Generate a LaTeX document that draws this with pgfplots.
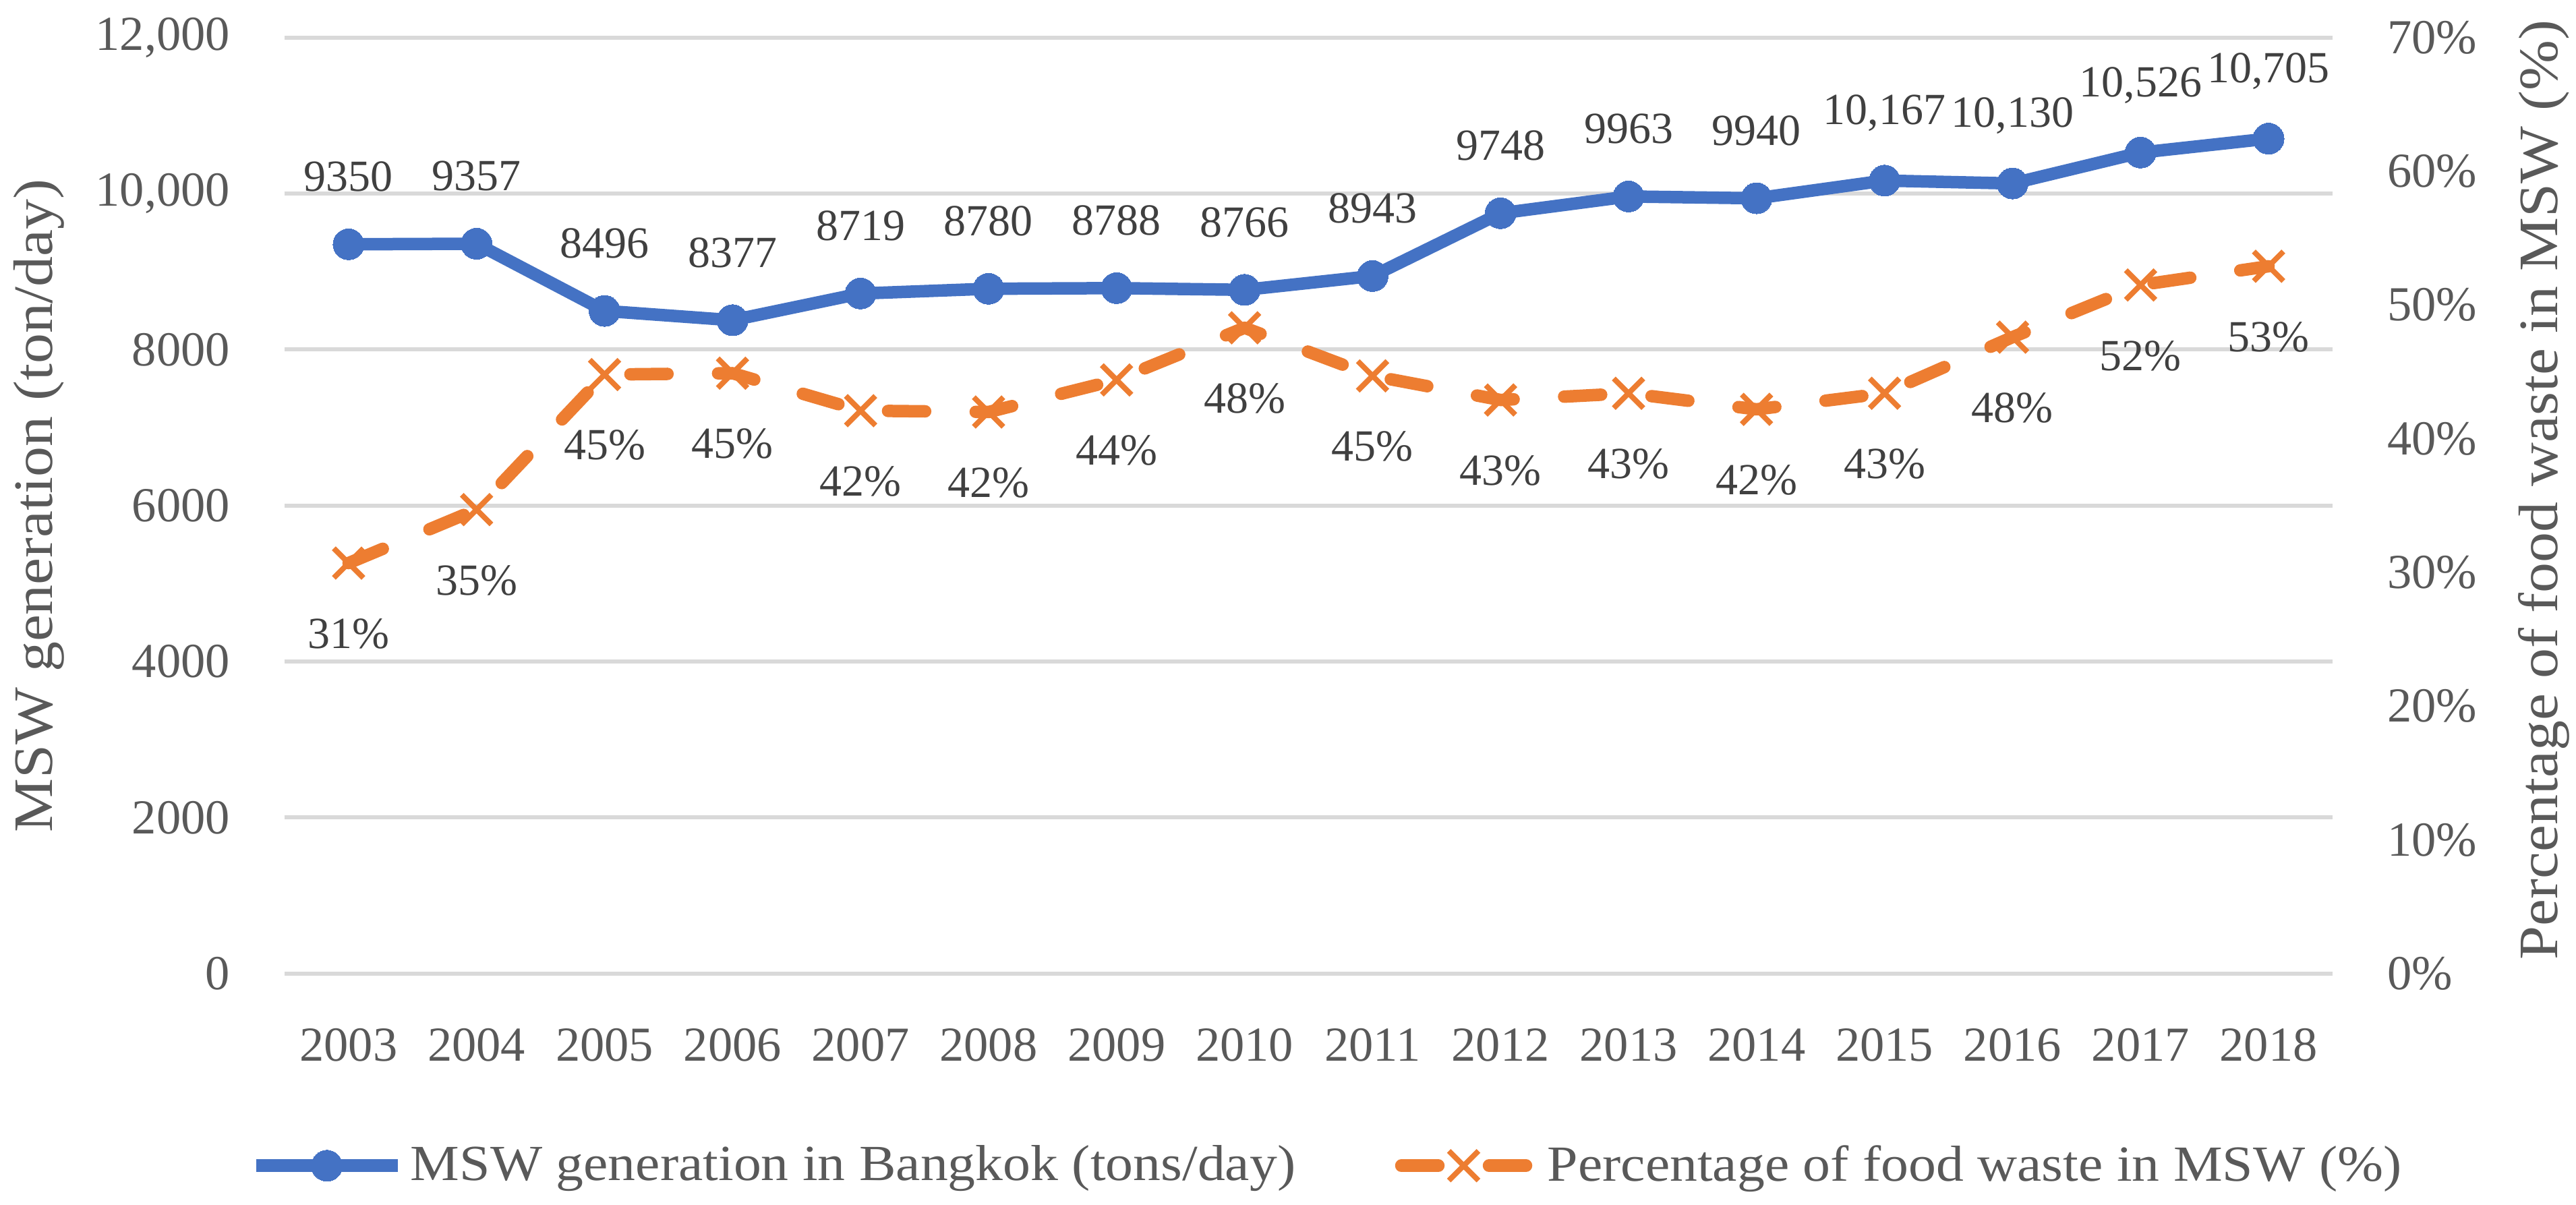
\documentclass[border=0pt]{standalone}
\usepackage{fontspec}
\setmainfont{Liberation Serif}
\newfontfamily\lblfont{Liberation Serif}[FakeStretch=1.09]
\usepackage{pgfplots}
\usepackage{pgfplotstable}
\pgfplotsset{compat=1.18}
\definecolor{txt}{HTML}{595959}
\definecolor{dlbl}{HTML}{404040}
\definecolor{gridc}{HTML}{D9D9D9}
\definecolor{cblue}{HTML}{4472C4}
\definecolor{corange}{HTML}{ED7D31}

\pgfplotstableread{
x y lab
0 9350 9350
1 9357 9357
2 8496 8496
3 8377 8377
4 8719 8719
5 8780 8780
6 8788 8788
7 8766 8766
8 8943 8943
9 9748 9748
10 9963 9963
11 9940 9940
12 10167 10,167
13 10130 10,130
14 10526 10,526
15 10705 10,705
}\msw

\pgfplotstableread{
x y lab
0 30.7 31
1 34.7 35
2 44.8 45
3 44.9 45
4 42.1 42
5 42.0 42
6 44.4 44
7 48.3 48
8 44.7 45
9 42.9 43
10 43.4 43
11 42.2 42
12 43.4 43
13 47.6 48
14 51.5 52
15 52.9 53
}\pct

\begin{document}
\begin{tikzpicture}
\begin{axis}[
  name=ax1,
  scale only axis, width=607.4pt, height=277.6pt,
  xmin=-0.5, xmax=15.5, ymin=0, ymax=12000,
  clip=false,
  scaled y ticks=false,
  axis line style={draw=none},
  major tick length=0pt,
  ymajorgrids, grid style={gridc, line width=1.2pt},
  xtick={0,...,15},
  xticklabels={2003,2004,2005,2006,2007,2008,2009,2010,2011,2012,2013,2014,2015,2016,2017,2018},
  ytick={0,2000,4000,6000,8000,10000,12000},
  yticklabels={0,2000,4000,6000,8000,{10,000},{12,000}},
  /pgf/number format/assume math mode=true,
  tick label style={font=\fontsize{14.5}{17}\selectfont, text=txt},
  xticklabel style={anchor=center, inner sep=0pt, yshift=-21.2pt},
  yticklabel style={anchor=east, inner sep=0pt, xshift=-16pt},
  ylabel={MSW generation (ton/day)},
  ylabel style={at={(axis description cs:0,0.5)}, anchor=center, yshift=72.8pt, font=\lblfont\fontsize{16.5}{19}\selectfont, text=txt},
]
\addplot[cblue, line width=3.7pt, line join=round, mark=*, mark size=4.6pt,
  mark options={solid, fill=cblue, draw=cblue, line width=0pt},
  nodes near coords, point meta=explicit symbolic,
  every node near coord/.append style={anchor=center, yshift=20pt, font=\fontsize{13.2}{15}\selectfont, text=dlbl}]
  table[x=x,y=y,meta=lab]{\msw};
\end{axis}
\begin{axis}[
  scale only axis, width=607.4pt, height=277.6pt,
  xmin=-0.5, xmax=15.5, ymin=0, ymax=70,
  clip=false,
  scaled y ticks=false,
  axis y line*=right,
  axis line style={draw=none},
  major tick length=0pt,
  xtick=\empty,
  ytick={0,10,20,30,40,50,60,70},
  yticklabels={0\%,10\%,20\%,30\%,40\%,50\%,60\%,70\%},
  /pgf/number format/assume math mode=true,
  tick label style={font=\fontsize{14.5}{17}\selectfont, text=txt},
  yticklabel style={anchor=west, inner sep=0pt, xshift=16pt},
  ylabel={Percentage of food waste in MSW (\%)},
  ylabel style={at={(axis description cs:1,0.5)}, anchor=center, yshift=-62.6pt, xshift=4.6pt, font=\lblfont\fontsize{16.5}{19}\selectfont, text=txt},
  legend columns=2,
  legend style={draw=none, fill=none, at={(0.5,-0.2053)}, xshift=6.1pt, anchor=center,
    font=\lblfont\fontsize{15}{18}\selectfont, text=txt,
    /tikz/every even column/.append style={column sep=25pt}},
  legend image code/.code={\draw[mark repeat=2,mark phase=2,#1, dash phase=23.5pt] plot coordinates {(0pt,0pt) (21pt,0pt) (42pt,0pt)};},
]
\addlegendimage{cblue, line width=3.7pt, mark=*, mark size=4.6pt, mark options={solid, fill=cblue, draw=cblue, line width=0pt}}
\addplot[corange, line width=3.7pt, line cap=round, line join=round, dash pattern=on 11pt off 15pt,
  mark=x, mark size=6.2pt, mark options={solid, line width=1.6pt, line cap=butt},
  nodes near coords={\pgfplotspointmeta\%}, point meta=explicit symbolic,
  every node near coord/.append style={anchor=center, yshift=-21pt, font=\fontsize{13.2}{15}\selectfont, text=dlbl}]
  table[x=x,y=y,meta=lab]{\pct};
\legend{MSW generation in Bangkok (tons/day), Percentage of food waste in MSW (\%)}
\end{axis}
\pgfresetboundingbox
\path ([shift={(-84.4pt,-68.6pt)}]ax1.south west) rectangle ([shift={(72.2pt,11.16pt)}]ax1.north east);
\end{tikzpicture}
\end{document}
